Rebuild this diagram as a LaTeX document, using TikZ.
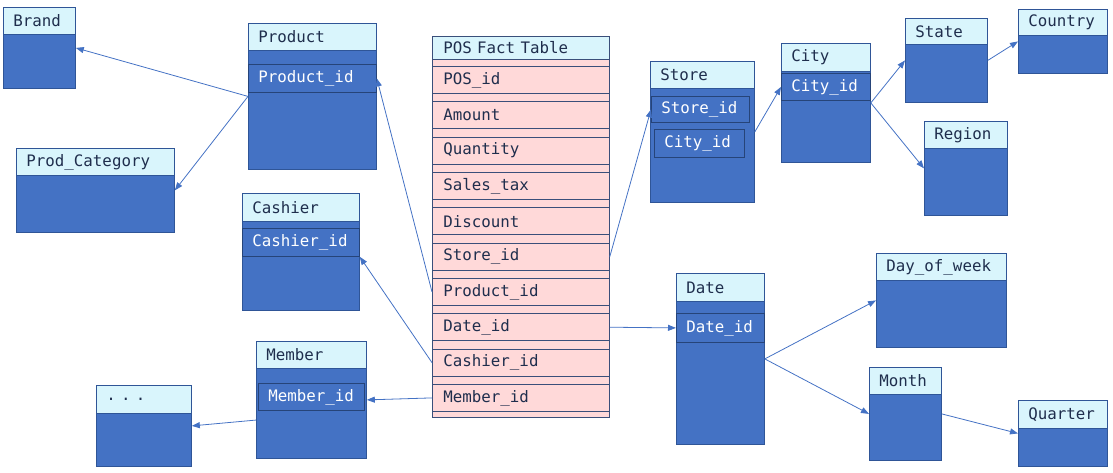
\documentclass[tikz,border=0pt]{standalone}
\usepackage{fontspec}
\setmainfont{DejaVu Sans Mono}
\usepackage{tikz}
\usetikzlibrary{arrows.meta, positioning}

\definecolor{dimblue}{HTML}{4472C4}
\definecolor{dimedge}{HTML}{2F5597}
\definecolor{headcyan}{HTML}{D9F5FC}
\definecolor{headtext}{HTML}{1F2E4D}
\definecolor{factpink}{HTML}{FFD9D9}
\definecolor{factedge}{HTML}{3A4F7A}

\tikzset{
  tbody/.style={draw=dimedge, fill=dimblue, line width=0.8pt, inner sep=0pt},
  thead/.style={draw=dimedge, fill=headcyan, text=headtext, line width=0.8pt,
    inner xsep=10pt, inner ysep=0pt, align=left},
  keyrow/.style={draw=dimedge!80!black, fill=dimblue, text=white, line width=0.8pt,
    inner xsep=10pt, inner ysep=0pt, align=left},
  factrow/.style={draw=factedge, fill=factpink, text=headtext, line width=0.8pt,
    inner xsep=11pt, inner ysep=0pt, align=left, minimum width=177, minimum height=27,
    text width=155pt, anchor=north west},
  link/.style={draw=dimblue, line width=0.8pt, -{Triangle[length=8pt,width=6pt]}}
}

\newcommand{\dimtable}[7]{%
  \node[tbody, anchor=north west, minimum width=#4, minimum height=#5] (#1) at (#2,#3) {};
  \pgfmathsetmacro{\hdw}{#4-20}
  \node[thead, anchor=north west, minimum height=#6, text width=\hdw pt] (#1-h) at (#2,#3) {#7};
}
\newcommand{\idrow}[6]{%
  \pgfmathsetmacro{\rww}{#4-20}
  \node[keyrow, anchor=north west, minimum height=#5, text width=\rww pt] (#1) at (#2,#3) {#6};
}

\begin{document}
\begin{tikzpicture}[x=1pt, y=-1pt, font=\fontsize{15.8}{18}\selectfont]
\useasboundingbox (0,0) rectangle (1113,472);
\dimtable{brand}{3}{7}{72}{81}{27}{Brand}
\dimtable{prodcat}{16}{148}{158}{84}{27}{Prod\_Category}
\dimtable{product}{248}{23}{128}{146}{27}{Product}
\idrow{product-id}{248}{64}{128}{28}{Product\_id}
\dimtable{cashier}{242}{193}{117}{117}{28}{Cashier}
\idrow{cashier-id}{242}{228}{117}{28}{Cashier\_id}
\dimtable{member}{256}{341}{110}{117}{27}{Member}
\idrow{member-id}{258}{383}{106}{27}{Member\_id}
\dimtable{etc}{96}{385}{95}{81}{28}{.\ .\ .}
\dimtable{store}{650}{61}{104}{141}{27}{Store}
\idrow{store-id}{651}{96}{98}{26}{Store\_id}
\idrow{store-city}{654}{129}{90}{28}{City\_id}
\dimtable{city}{781}{43}{89}{119}{28}{City}
\idrow{city-id}{781}{73}{89}{27}{City\_id}
\dimtable{state}{905}{18}{82}{84}{26}{State}
\dimtable{country}{1018}{9}{89}{64}{26}{Country}
\dimtable{region}{924}{121}{83}{94}{27}{Region}
\dimtable{date}{676}{273}{88}{171}{28}{Date}
\idrow{date-id}{676}{313}{88}{29}{Date\_id}
\dimtable{dayweek}{876}{253}{130}{94}{27}{Day\_of\_week}
\dimtable{month}{869}{367}{72}{93}{27}{Month}
\dimtable{quarter}{1018}{400}{89}{66}{28}{Quarter}

\node[draw=factedge, fill=factpink, line width=0.8pt, anchor=north west, minimum width=177, minimum height=381, inner sep=0pt] (fact) at (432,36) {};
\node[thead, draw=factedge, anchor=north west, minimum height=23, text width=155pt, inner xsep=11pt] (fact-h) at (432,36) {POS Fact Table};
\node[factrow] (f-pos) at (432,66) {POS\_id};
\node[factrow] (f-amount) at (432,101.3) {Amount};
\node[factrow] (f-qty) at (432,136.7) {Quantity};
\node[factrow] (f-tax) at (432,172) {Sales\_tax};
\node[factrow] (f-disc) at (432,207.3) {Discount};
\node[factrow] (f-store) at (432,242.7) {Store\_id};
\node[factrow] (f-product) at (432,278) {Product\_id};
\node[factrow] (f-date) at (432,313.3) {Date\_id};
\node[factrow] (f-cashier) at (432,348.7) {Cashier\_id};
\node[factrow] (f-member) at (432,384) {Member\_id};

\draw[link] (product.west) -- (brand.east);
\draw[link] (product.west) -- (prodcat.east);
\draw[link] (f-product.west) -- (product-id.east);
\draw[link] (f-cashier.west) -- (cashier-id.south east);
\draw[link] (f-member.west) -- (member.east);
\draw[link] (member.200) -- (etc.east);
\draw[link] (f-store.east) -- (store-id.west);
\draw[link] (store.east) -- (city-id.west);
\draw[link] (city.east) -- (state.west);
\draw[link] (city.east) -- (region.west);
\draw[link] (state.east) -- (country.west);
\draw[link] (f-date.east) -- (date-id.west);
\draw[link] (date.east) -- (dayweek.west);
\draw[link] (date.east) -- (month.west);
\draw[link] (month.east) -- (quarter.west);
\end{tikzpicture}
\end{document}
